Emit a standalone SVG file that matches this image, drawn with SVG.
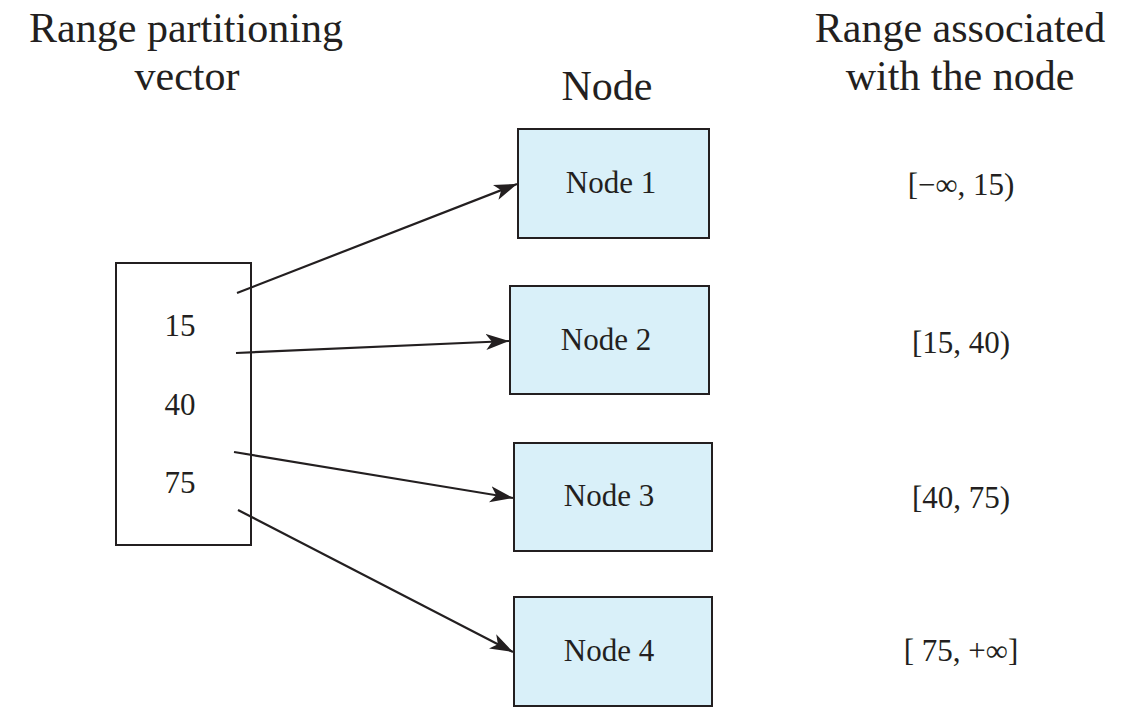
<svg xmlns="http://www.w3.org/2000/svg" width="1146" height="723" viewBox="0 0 1146 723">
  <style>
    .title { font-family: "Liberation Serif", "Times New Roman", serif; font-size: 42px; fill: #231f20; text-anchor: middle; }
    .label { font-family: "Liberation Serif", "Times New Roman", serif; font-size: 31px; fill: #231f20; text-anchor: middle; }
    .node rect { fill: #d9f0f9; stroke: #231f20; stroke-width: 2; }
    .vec { fill: #ffffff; stroke: #231f20; stroke-width: 2; }
    .edge { stroke: #231f20; stroke-width: 2.2; fill: none; marker-end: url(#arrow); }
  </style>
  <defs>
    <marker id="arrow" markerUnits="userSpaceOnUse" markerWidth="24" markerHeight="18" viewBox="0 0 24 18" refX="23" refY="9" orient="auto">
      <path d="M0,1 L23,9 L0,17 L6,9 Z" fill="#231f20"/>
    </marker>
  </defs>

  <rect width="1146" height="723" fill="#ffffff"/>

  <!-- column headings -->
  <g id="headings">
    <text class="title" x="186" y="42">Range partitioning</text>
    <text class="title" x="187" y="90">vector</text>
    <text class="title" x="607" y="100">Node</text>
    <text class="title" x="960" y="42">Range associated</text>
    <text class="title" x="960" y="90">with the node</text>
  </g>

  <!-- partitioning vector -->
  <g id="vector">
    <rect class="vec" x="116" y="263" width="135" height="282"/>
    <text class="label" x="180" y="336">15</text>
    <text class="label" x="180" y="415">40</text>
    <text class="label" x="180" y="493">75</text>
  </g>

  <!-- nodes -->
  <g id="node1" class="node">
    <rect x="518" y="129" width="191" height="109"/>
    <text class="label" x="611" y="193">Node 1</text>
  </g>
  <g id="node2" class="node">
    <rect x="510" y="286" width="199" height="108"/>
    <text class="label" x="606" y="350">Node 2</text>
  </g>
  <g id="node3" class="node">
    <rect x="514" y="443" width="198" height="108"/>
    <text class="label" x="609" y="506">Node 3</text>
  </g>
  <g id="node4" class="node">
    <rect x="514" y="597" width="198" height="109"/>
    <text class="label" x="609" y="661">Node 4</text>
  </g>

  <!-- ranges -->
  <g id="ranges">
    <text class="label" x="961" y="195">[−∞, 15)</text>
    <text class="label" x="961" y="353">[15, 40)</text>
    <text class="label" x="961" y="508">[40, 75)</text>
    <text class="label" x="961" y="661">[ 75, +∞]</text>
  </g>

  <!-- connectors -->
  <g id="connectors">
    <line class="edge" x1="237" y1="293" x2="517" y2="184"/>
    <line class="edge" x1="236" y1="353" x2="509" y2="341"/>
    <line class="edge" x1="234" y1="452" x2="513" y2="498"/>
    <line class="edge" x1="238" y1="510" x2="513" y2="652"/>
  </g>
</svg>
